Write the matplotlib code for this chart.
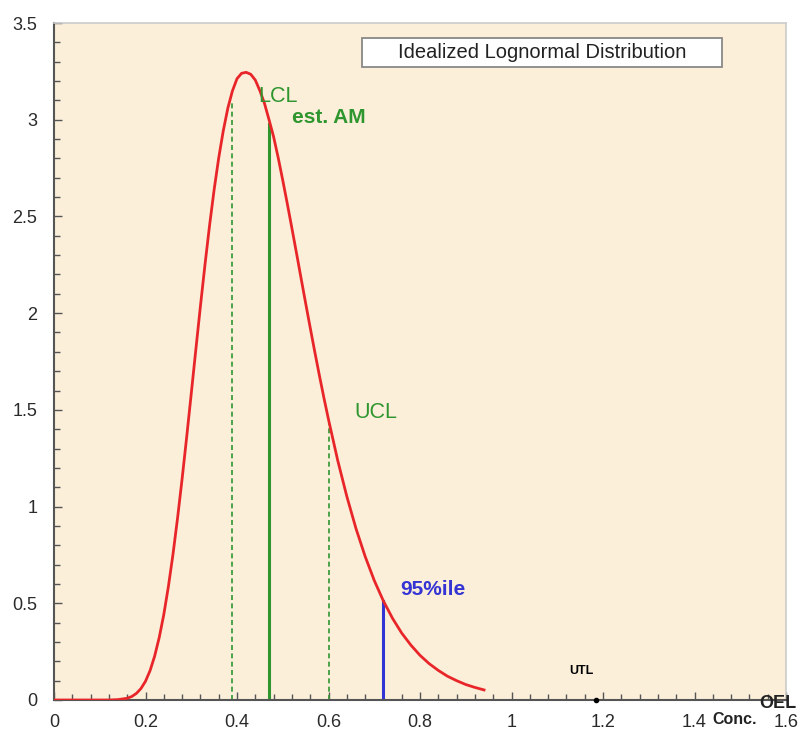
import matplotlib.pyplot as plt
from matplotlib.ticker import MultipleLocator
from matplotlib.patches import Rectangle

plt.rcParams["font.family"] = ["Liberation Sans", "DejaVu Sans"]

# curve (concentration, density)
conc = [0.0, 0.10, 0.12, 0.14, 0.16, 0.17, 0.18, 0.19, 0.20, 0.21, 0.22, 0.23,
        0.24, 0.25, 0.26, 0.27, 0.28, 0.29, 0.30, 0.31, 0.32, 0.33, 0.34, 0.35,
        0.36, 0.37, 0.38, 0.39, 0.40, 0.41, 0.42, 0.43, 0.44, 0.45, 0.46, 0.47,
        0.48, 0.49, 0.50, 0.51, 0.52, 0.53, 0.54, 0.55, 0.56, 0.57, 0.58, 0.59,
        0.60, 0.62, 0.64, 0.66, 0.68, 0.70, 0.72, 0.74, 0.76, 0.78, 0.80, 0.82,
        0.84, 0.86, 0.88, 0.90, 0.92, 0.94]
density = [0.0, 0.0, 0.0, 0.002, 0.009, 0.018, 0.034, 0.059, 0.097, 0.152, 0.227, 0.323,
           0.442, 0.586, 0.752, 0.939, 1.143, 1.359, 1.584, 1.811, 2.035, 2.250, 2.453, 2.638,
           2.802, 2.943, 3.060, 3.149, 3.212, 3.240, 3.245, 3.235, 3.205, 3.150, 3.085, 3.000,
           2.912, 2.804, 2.687, 2.565, 2.439, 2.311, 2.181, 2.052, 1.925, 1.800, 1.679, 1.562,
           1.450, 1.240, 1.053, 0.887, 0.743, 0.618, 0.512, 0.422, 0.346, 0.284, 0.231, 0.188,
           0.153, 0.123, 0.100, 0.080, 0.065, 0.052]

# markers: (x, height)
lcl = (0.39, 3.10)
est_am = (0.47, 2.98)
ucl = (0.60, 1.43)
p95 = (0.72, 0.51)
utl = 1.185

red = "#e8262a"
green = "#2f962f"
blue = "#3434d4"

fig = plt.figure(figsize=(7.99, 7.31), dpi=100)
ax = fig.add_axes([54 / 799, 31 / 731, 732 / 799, 677 / 731])
ax.set_facecolor("#fbefda")

ax.plot(conc, density, color=red, lw=2, zorder=3)
ax.plot([lcl[0], lcl[0]], [0, lcl[1]], color=green, lw=1.2, ls=(0, (3, 2)))
ax.plot([est_am[0], est_am[0]], [0, est_am[1]], color=green, lw=2.2)
ax.plot([ucl[0], ucl[0]], [0, ucl[1]], color=green, lw=1.2, ls=(0, (3, 2)))
ax.plot([p95[0], p95[0]], [0, p95[1]], color=blue, lw=2.2)
ax.plot([utl], [0], "o", color="black", ms=3, clip_on=False, zorder=4)

ax.text(0.446, 3.118, "LCL", color=green, fontsize=15.5, ha="left", va="center")
ax.text(0.52, 3.01, "est. AM", color=green, fontsize=15, fontweight="bold", ha="left", va="center")
ax.text(0.656, 1.484, "UCL", color=green, fontsize=15.5, ha="left", va="center")
ax.text(0.756, 0.57, "95%ile", color=blue, fontsize=15, fontweight="bold", ha="left", va="center")
ax.text(1.152, 0.15, "UTL", color="black", fontsize=9, fontweight="bold", ha="center", va="center")

ax.add_patch(Rectangle((0.421, 0.935), 0.4916, 0.043, transform=ax.transAxes,
                       fc="white", ec="#888888", lw=1.3, zorder=5))
ax.text(0.667, 0.9565, "Idealized Lognormal Distribution", transform=ax.transAxes,
        fontsize=14.5, ha="center", va="center", color="#222222", zorder=6)

ax.set_xlim(0, 1.6)
ax.set_ylim(0, 3.5)
ax.xaxis.set_minor_locator(MultipleLocator(0.04))
ax.yaxis.set_minor_locator(MultipleLocator(0.1))
ax.set_xticks([0, 0.2, 0.4, 0.6, 0.8, 1.0, 1.2, 1.4, 1.6])
ax.set_xticklabels(["0", "0.2", "0.4", "0.6", "0.8", "1", "1.2", "1.4", "1.6"])
ax.set_yticks([0, 0.5, 1, 1.5, 2, 2.5, 3, 3.5])
ax.set_yticklabels(["0", "0.5", "1", "1.5", "2", "2.5", "3", "3.5"])
ax.tick_params(which="both", direction="in", colors="#555555", labelcolor="#2a2a2a",
               labelsize=13, width=1)
ax.tick_params(which="major", length=6)
ax.tick_params(which="minor", length=4)
ax.tick_params(axis="x", pad=10)
ax.tick_params(axis="y", pad=12)

for side in ["left", "bottom"]:
    ax.spines[side].set_color("#555555")
    ax.spines[side].set_linewidth(1.5)
for side in ["top", "right"]:
    ax.spines[side].set_color("#cccccc")
    ax.spines[side].set_linewidth(1.2)

fig.text(778 / 799, 1 - 704 / 731, "OEL", fontsize=13, fontweight="bold",
         color="#222222", ha="center", va="center")
fig.text(735 / 799, 1 - 720 / 731, "Conc.", fontsize=11.5, fontweight="bold",
         color="#222222", ha="center", va="center")

fig.savefig("out.png", dpi=100)
